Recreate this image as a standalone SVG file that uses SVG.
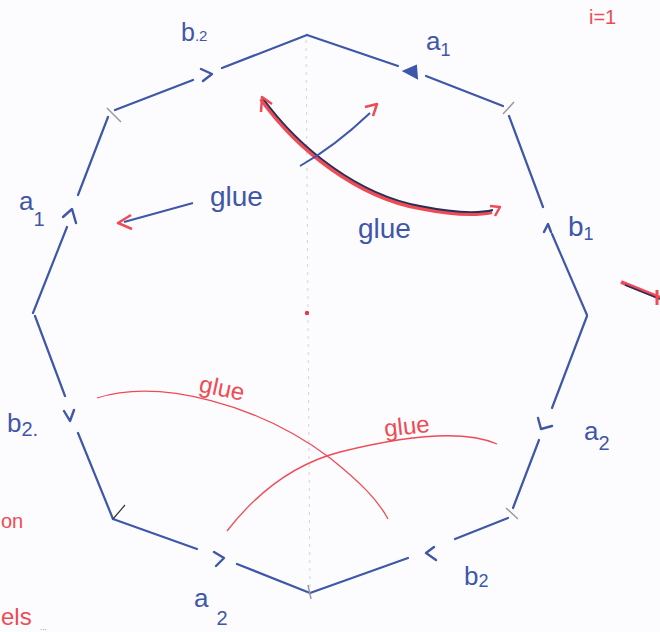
<svg xmlns="http://www.w3.org/2000/svg" width="660" height="632" viewBox="0 0 660 632">
<style>
.e{stroke:#3f57a8;stroke-width:2.2;fill:none;stroke-linecap:round}
.ah{stroke:#3f57a8;stroke-width:2.4;fill:none;stroke-linecap:round;stroke-linejoin:round}
.tk{stroke:#9a9a9a;stroke-width:1.5}
.bl{font-family:"Liberation Sans",Arial,sans-serif;fill:#3f57a8}
.rd{font-family:"Liberation Sans",Arial,sans-serif;fill:#ee4b55}
.rc{stroke:#ee4b55;stroke-width:1.3;fill:none}
.ra{fill:none;stroke:#ee4b55;stroke-width:2.5;stroke-linejoin:round}
</style>
<rect width="660" height="632" fill="#fcfcfe"/>
<line x1="306" y1="40" x2="310" y2="590" stroke="#d4d4d8" stroke-width="1" stroke-dasharray="3 5"/>
<circle cx="307" cy="313" r="2.2" fill="#e23a4a"/>
<g id="polygon">
 <g id="edge-top-ul"><path class="e" d="M307,35 L222,68 M193,80 L115,110"/><path class="ah" d="M201,69 L212,74 L203,81"/></g>
 <g id="edge-top-ur"><path class="e" d="M307,35 L398,66 M426,76 L503,106"/><path d="M416,66 L404,71 L417,78 Z" fill="#3f57a8" stroke="#3f57a8" stroke-width="2"/></g>
 <g id="edge-ur-r"><path class="e" d="M509,116 L543,207 M552,234 L587,315"/><path class="ah" d="M544,232 L548,224 L551,232"/></g>
 <g id="edge-r-lr"><path class="e" d="M587,316 L552,408 M539,440 L513,508"/><path class="ah" d="M538,418 L541,429 L552,426"/></g>
 <g id="edge-lr-b"><path class="e" d="M508,518 L455,539 M408,558 L310,593"/><path class="ah" d="M434,547 L426,553 L436,560"/></g>
 <g id="edge-b-ll"><path class="e" d="M310,593 L237,564 M197,549 L113,519"/><path class="ah" d="M214,552 L224,558 L216,566"/></g>
 <g id="edge-ll-l"><path class="e" d="M113,519 L78,433 M65,396 L35,316"/><path class="ah" d="M64,411 L70,421 L74,410"/></g>
 <g id="edge-l-ul"><path class="e" d="M33,313 L67,227 M78,195 L108,117"/><path class="ah" d="M63,217 L72,209 L76,223"/></g>
 <g id="ticks">
  <line class="tk" x1="107" y1="108" x2="121" y2="122"/>
  <line class="tk" x1="503" y1="114" x2="514" y2="102"/>
  <line class="tk" x1="506" y1="508" x2="518" y2="519"/>
  <line class="tk" x1="308" y1="585" x2="311" y2="599"/>
  <path d="M113,519 L125,505" stroke="#333" stroke-width="1.2"/>
 </g>
</g>
<g id="labels">
 <text class="bl" x="181" y="41" font-size="25">b<tspan font-size="15">.2</tspan></text>
 <text class="bl" x="426" y="50" font-size="26">a<tspan font-size="18" dy="6">1</tspan></text>
 <text class="bl" x="568" y="236" font-size="28">b<tspan font-size="18" dy="4">1</tspan></text>
 <text class="bl" x="584" y="440" font-size="26">a<tspan font-size="20" dy="10">2</tspan></text>
 <text class="bl" x="464" y="585" font-size="26">b<tspan font-size="18" dy="2">2</tspan></text>
 <text class="bl" x="194" y="607" font-size="26">a<tspan font-size="20" dx="8" dy="18">2</tspan></text>
 <text class="bl" x="7" y="432" font-size="26">b<tspan font-size="20" dy="4">2.</tspan></text>
 <text class="bl" x="19" y="210" font-size="26">a<tspan font-size="20" dy="16">1</tspan></text>
</g>
<g id="glue-connectors">
 <g id="glue-left">
  <path d="M193,203 L124,222" stroke="#3f57a8" stroke-width="2" fill="none"/>
  <path class="ra" d="M131,215 L118,223 L132,229"/>
  <text class="bl" x="210" y="206" font-size="28">glue</text>
 </g>
 <g id="glue-top">
  <path d="M262,97 C300,150 360,195 420,206 C450,212 475,214 493,210" stroke="#ee4b55" stroke-width="4" fill="none" transform="translate(-1,2)"/>
  <path d="M262,97 C300,150 360,195 420,206 C450,212 475,214 493,210" stroke="#25305a" stroke-width="1.8" fill="none"/>
  <path class="ra" d="M261,112 L262,97 L272,104"/>
  <path class="ra" d="M490,206 L500,207 L495,216"/>
  <text class="bl" x="358" y="238" font-size="28">glue</text>
 </g>
 <g id="glue-short">
  <path d="M300,166 C325,152 350,132 370,113" stroke="#3f57a8" stroke-width="2" fill="none"/>
  <path class="ra" d="M365,107 L377,104 L373,116"/>
 </g>
 <g id="glue-lower-a">
  <path class="rc" d="M97,398 C160,378 260,405 330,458 C360,482 378,500 388,519"/>
  <text class="rd" x="199" y="397" font-size="24" transform="rotate(12 225 390)">glue</text>
 </g>
 <g id="glue-lower-b">
  <path class="rc" d="M227,531 C255,495 290,465 340,452 C400,437 460,428 497,444"/>
  <text class="rd" x="384" y="434" font-size="24" transform="rotate(-6 410 425)">glue</text>
 </g>
 <g id="right-arrow">
  <path d="M621,282 L660,298" stroke="#ee4b55" stroke-width="4" fill="none"/>
  <path d="M625,285 L660,299" stroke="#25305a" stroke-width="1.5" fill="none"/>
  <path d="M657,290 L657,305" stroke="#ee4b55" stroke-width="3"/>
 </g>
</g>
<g id="margin-notes">
 <text class="rd" x="589" y="24" font-size="20">i=1</text>
 <text class="rd" x="1" y="528" font-size="20">on</text>
 <text class="rd" x="1" y="625" font-size="24">els</text>
 <text class="rd" x="40" y="630" font-size="8">...</text>
</g>
</svg>
